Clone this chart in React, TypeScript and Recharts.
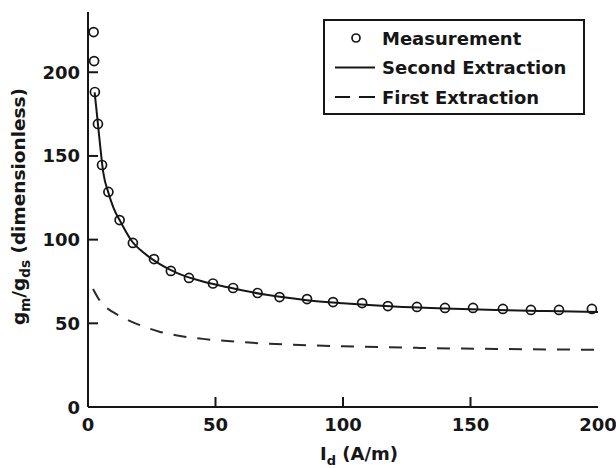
import {
  ComposedChart,
  Line,
  Scatter,
  XAxis,
  YAxis,
  Label,
} from 'recharts';

// ---------------------------------------------------------------------------
// Data
// ---------------------------------------------------------------------------

const measX = [2.2, 2.4, 2.7, 3.9, 5.5, 8.0, 12.4, 17.6, 25.9, 32.5, 39.6, 49.0, 56.9, 66.5, 75.1, 85.9, 96.1, 107.5, 117.6, 129.0, 140.0, 151.0, 162.7, 173.7, 184.7, 197.6];
const measY = [224, 206.7, 188.2, 169.1, 144.6, 128.5, 111.7, 98.0, 88.4, 81.3, 77.1, 73.8, 71.1, 68.1, 65.7, 64.5, 62.7, 62.1, 60.3, 59.8, 59.2, 59.2, 58.6, 58.0, 58.0, 58.6];

const secondX = [2.6, 3.5, 4.5, 6, 8, 10, 13, 17, 22, 28, 35, 45, 55, 70, 85, 100, 120, 140, 160, 180, 200];
const secondY = [188, 175, 160, 140, 128, 119, 110, 99.5, 92, 85.5, 80, 75, 71.5, 67, 64, 62, 60, 58.8, 57.9, 57.3, 56.8];

const firstX = [2, 4, 6, 8, 10, 13, 17, 22, 28, 35, 45, 60, 80, 100, 130, 160, 200];
const firstY = [70.5, 65, 61, 58.5, 56.5, 54, 51, 48, 45, 42.7, 40.7, 38.8, 37.2, 36.3, 35.3, 34.7, 34.2];

const xTicks = [0, 50, 100, 150, 200];
const yTicks = [0, 50, 100, 150, 200];

const measurement = measX.map((x, i) => ({ x, y: measY[i] }));
const secondExtraction = secondX.map((x, i) => ({ x, y: secondY[i] }));
const firstExtraction = firstX.map((x, i) => ({ x, y: firstY[i] }));

// ---------------------------------------------------------------------------
// Styling helpers
// ---------------------------------------------------------------------------

const FONT = 'DejaVu Sans';
const INK = '#161616';
const TICK_LEN = 10;

function OpenCircle(props: { cx?: number; cy?: number }) {
  const { cx, cy } = props;
  if (cx == null || cy == null) return null;
  return <circle cx={cx} cy={cy} r={4.5} fill="none" stroke={INK} strokeWidth={1.7} />;
}

// inward ticks: tick line drawn into the plot, label outside
function XTick({ x, y, payload }: any) {
  const isEdge = payload.value === 0 || payload.value === 200;
  return (
    <g>
      {!isEdge && <rect x={x - 1} y={y - TICK_LEN} width={2} height={TICK_LEN} fill={INK} />}
      <text x={x} y={y + 24} textAnchor="middle" fill={INK} fontSize={18} fontWeight={700} fontFamily={FONT}>
        {payload.value}
      </text>
    </g>
  );
}

function YTick({ x, y, payload }: any) {
  const isEdge = payload.value === 0;
  return (
    <g>
      {!isEdge && <rect x={x} y={y - 1} width={TICK_LEN} height={2} fill={INK} />}
      <text x={x - 8} y={y + 6.5} textAnchor="end" fill={INK} fontSize={18} fontWeight={700} fontFamily={FONT}>
        {payload.value}
      </text>
    </g>
  );
}

function XTitle({ viewBox }: any) {
  const cx = viewBox.x + viewBox.width / 2 + 16;
  return (
    <text x={cx} y={viewBox.y + 53} textAnchor="middle" fill={INK} fontSize={18} fontWeight={700} fontFamily={FONT}>
      I<tspan fontSize={13} dy={5}>d</tspan>
      <tspan dy={-5}> (A/m)</tspan>
    </text>
  );
}

function YTitle({ viewBox }: any) {
  const cx = 25;
  const cy = viewBox.y + viewBox.height / 2 - 3;
  return (
    <text
      x={cx}
      y={cy}
      transform={`rotate(-90 ${cx} ${cy})`}
      textAnchor="middle"
      fill={INK}
      fontSize={18.5}
      fontWeight={700}
      fontFamily={FONT}
    >
      g<tspan fontSize={13.5} dy={5}>m</tspan>
      <tspan dy={-5}>/g</tspan>
      <tspan fontSize={13.5} dy={5}>ds</tspan>
      <tspan dy={-5}> (dimensionless)</tspan>
    </text>
  );
}

const legendRows = [
  { label: 'Measurement', kind: 'circle' },
  { label: 'Second Extraction', kind: 'solid' },
  { label: 'First Extraction', kind: 'dashed' },
];

function LegendBox() {
  return (
    <div
      style={{
        position: 'absolute',
        left: 324,
        top: 20,
        width: 260,
        height: 94,
        outline: `2px solid ${INK}`,
        outlineOffset: -1,
        background: '#fff',
      }}
    >
      <svg width={260} height={94} style={{ display: 'block' }}>
        {legendRows.map((row, i) => {
          const cy = 18 + i * 29.5;
          return (
            <g key={row.label}>
              {row.kind === 'circle' && (
                <circle cx={32} cy={cy} r={4} fill="none" stroke={INK} strokeWidth={1.7} />
              )}
              {row.kind === 'solid' && <rect x={11} y={cy - 1} width={40} height={2} fill={INK} />}
              {row.kind === 'dashed' && (
                <g>
                  <rect x={11} y={cy - 1} width={15} height={2} fill={INK} />
                  <rect x={35} y={cy - 1} width={16} height={2} fill={INK} />
                </g>
              )}
              <text x={58} y={cy + 6.5} fill={INK} fontSize={18} fontWeight={700} fontFamily={FONT}>
                {row.label}
              </text>
            </g>
          );
        })}
      </svg>
    </div>
  );
}

// ---------------------------------------------------------------------------
// Component
// ---------------------------------------------------------------------------

export default function App() {
  return (
    <div style={{ position: 'absolute', left: 0, top: 0, width: 616, height: 468, background: '#fff' }}>
      <ComposedChart width={616} height={468} margin={{ top: 12, right: 18, bottom: 21, left: 28 }}>
        <XAxis
          xAxisId="bottom"
          type="number"
          dataKey="x"
          domain={[0, 200]}
          ticks={xTicks}
          allowDataOverflow
          height={40}
          tick={<XTick />}
          tickSize={0}
          tickMargin={0}
          tickLine={false}
          axisLine={{ stroke: INK, strokeWidth: 2 }}
        >
          <Label content={XTitle} />
        </XAxis>
        <XAxis
          xAxisId="top"
          orientation="top"
          type="number"
          dataKey="x"
          domain={[0, 200]}
          height={0}
          tick={false}
          tickLine={false}
          axisLine={{ stroke: INK, strokeWidth: 2 }}
        />
        <YAxis
          yAxisId="left"
          type="number"
          dataKey="y"
          domain={[0, 236]}
          ticks={yTicks}
          allowDataOverflow
          width={60}
          tick={<YTick />}
          tickSize={0}
          tickMargin={0}
          tickLine={false}
          axisLine={{ stroke: INK, strokeWidth: 2 }}
        >
          <Label content={YTitle} />
        </YAxis>
        <YAxis
          yAxisId="right"
          orientation="right"
          type="number"
          dataKey="y"
          domain={[0, 236]}
          width={0}
          tick={false}
          tickLine={false}
          axisLine={{ stroke: INK, strokeWidth: 2 }}
        />

        <Line
          xAxisId="bottom"
          yAxisId="left"
          data={firstExtraction}
          dataKey="y"
          type="monotone"
          stroke="#2a2a2a"
          strokeWidth={2}
          strokeDasharray="13 11"
          dot={false}
          activeDot={false}
          isAnimationActive={false}
        />
        <Line
          xAxisId="bottom"
          yAxisId="left"
          data={secondExtraction}
          dataKey="y"
          type="monotone"
          stroke={INK}
          strokeWidth={2}
          dot={false}
          activeDot={false}
          isAnimationActive={false}
        />
        <Scatter
          xAxisId="bottom"
          yAxisId="left"
          data={measurement}
          dataKey="y"
          shape={OpenCircle}
          isAnimationActive={false}
        />
      </ComposedChart>
      <LegendBox />
    </div>
  );
}
